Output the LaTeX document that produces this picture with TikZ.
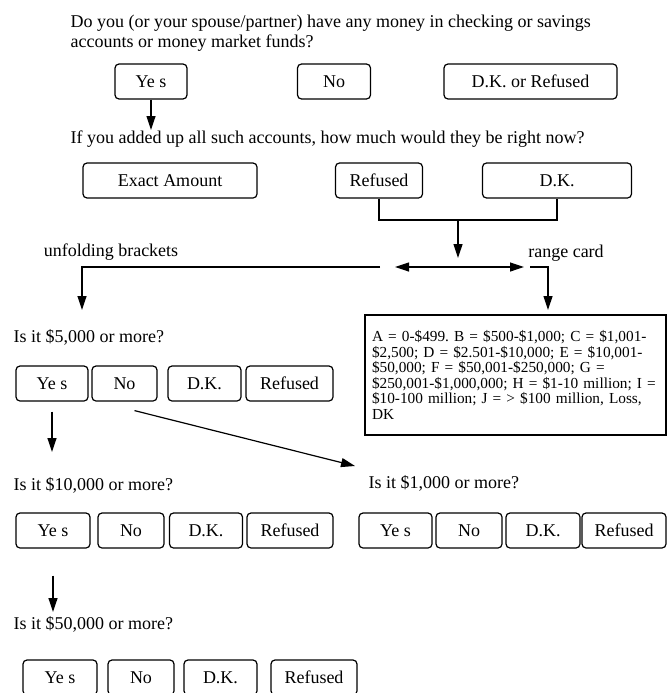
\documentclass[tikz,border=0pt]{standalone}
\usepackage{fontspec}
\setmainfont{Liberation Serif}
\usetikzlibrary{arrows.meta,positioning,calc}
\frenchspacing

\newcommand{\qsize}{\fontsize{18}{20}\selectfont}
\newcommand{\cardsize}{\fontsize{15.3}{15.5}\selectfont}

\begin{document}
\begin{tikzpicture}[x=1pt, y=-1pt, line width=1.2pt, >={Triangle[length=14pt,width=9pt]},
    choice/.style={rectangle, draw, rounded corners=4pt, minimum height=35pt, inner sep=0pt, font=\qsize},
    question/.style={anchor=west, inner sep=0pt, font=\qsize, align=left},
    tag/.style={inner sep=0pt, font=\qsize},
    card/.style={rectangle, draw, minimum width=301pt, minimum height=120pt, text width=287pt, inner xsep=7pt, align=left, font=\cardsize}]
    \useasboundingbox (0,0) rectangle (669,693);

    \node[question] (money) at (70,33) {Do you (or your spouse/partner) have any money in checking or savings\\accounts or money market funds?};
    \node[choice, minimum width=72pt] (yes1) at (151,81.5) {Ye s};
    \node[choice, minimum width=73pt] (no1) at (334,81.5) {No};
    \node[choice, minimum width=173pt] (dkref1) at (530.5,81.5) {D.K. or Refused};

    \node[question] (howmuch) at (70,139) {If you added up all such accounts, how much would they be right now?};
    \node[choice, minimum width=174pt] (exact2) at (170,180.5) {Exact Amount};
    \node[choice, minimum width=87pt] (refused2) at (379,180.5) {Refused};
    \node[choice, minimum width=149pt] (dk2) at (557,180.5) {D.K.};

    \node[tag] (unfold) at (111,252) {unfolding brackets};
    \node[tag] (range) at (566,253) {range card};

    \node[question] (q5k) at (13,337) {Is it \$5,000 or more?};
    \node[choice, minimum width=72pt] (yes3) at (52,383.5) {Ye s};
    \node[choice, minimum width=65pt] (no3) at (124.5,383.5) {No};
    \node[choice, minimum width=73pt] (dk3) at (204.5,383.5) {D.K.};
    \node[choice, minimum width=87pt] (refused3) at (289.5,383.5) {Refused};

    \node[card] (card) at (515.5,375) {\setlength{\baselineskip}{15.5pt}A = 0-\$499. B = \$500-\$1,000; C = \$1,001-\\\$2,500; D = \$2.501-\$10,000; E = \$10,001-\\\$50,000; F = \$50,001-\$250,000; G =\\\$250,001-\$1,000,000; H = \$1-10 million; I =\\\$10-100 million; J = > \$100 million, Loss,\\DK};

    \node[question] (q10k) at (13,485) {Is it \$10,000 or more?};
    \node[choice, minimum width=74pt] (yes4) at (53,530.5) {Ye s};
    \node[choice, minimum width=66pt] (no4) at (131,530.5) {No};
    \node[choice, minimum width=73pt] (dk4) at (206,530.5) {D.K.};
    \node[choice, minimum width=86pt] (refused4) at (290,530.5) {Refused};

    \node[question] (q1k) at (368,483) {Is it \$1,000 or more?};
    \node[choice, minimum width=73pt] (yes4r) at (395.5,530.5) {Ye s};
    \node[choice, minimum width=66pt] (no4r) at (469,530.5) {No};
    \node[choice, minimum width=74pt] (dk4r) at (543,530.5) {D.K.};
    \node[choice, minimum width=84pt] (refused4r) at (624,530.5) {Refused};

    \node[question] (q50k) at (13,624) {Is it \$50,000 or more?};
    \node[choice, minimum width=74pt] (yes5) at (60,677.5) {Ye s};
    \node[choice, minimum width=66pt] (no5) at (141,677.5) {No};
    \node[choice, minimum width=73pt] (dk5) at (220.5,677.5) {D.K.};
    \node[choice, minimum width=86pt] (refused5) at (314,677.5) {Refused};

    \coordinate (toq2) at (151,130);
    \coordinate (join) at (458,220);
    \coordinate (split) at (458,258);
    \coordinate (leftend) at (395,267);
    \coordinate (rightend) at (524,267);
    \coordinate (ubstart) at (380,267);
    \coordinate (ubend) at (82,310);
    \coordinate (rcstart) at (530,267);
    \coordinate (rcend) at (548,310);
    \coordinate (to10k) at (52,452);
    \coordinate (to1k) at (355,466);
    \coordinate (to50k) at (53,612);

    \draw[->] (yes1) -- (toq2);
    \draw (refused2.south) |- (join) -| (dk2.south);
    \draw[->] (join) -- (split);
    \draw[<->] (leftend) -- (rightend);
    \draw[->] (ubstart) -| (ubend);
    \draw[->] (rcstart) -| (rcend);
    \draw[->] ([yshift=-10pt]yes3.south) -- (to10k);
    \draw[->] ([xshift=10pt,yshift=-9pt]no3.south) -- (to1k);
    \draw[->] ([yshift=-27pt]yes4.south) -- (to50k);
\end{tikzpicture}
\end{document}
